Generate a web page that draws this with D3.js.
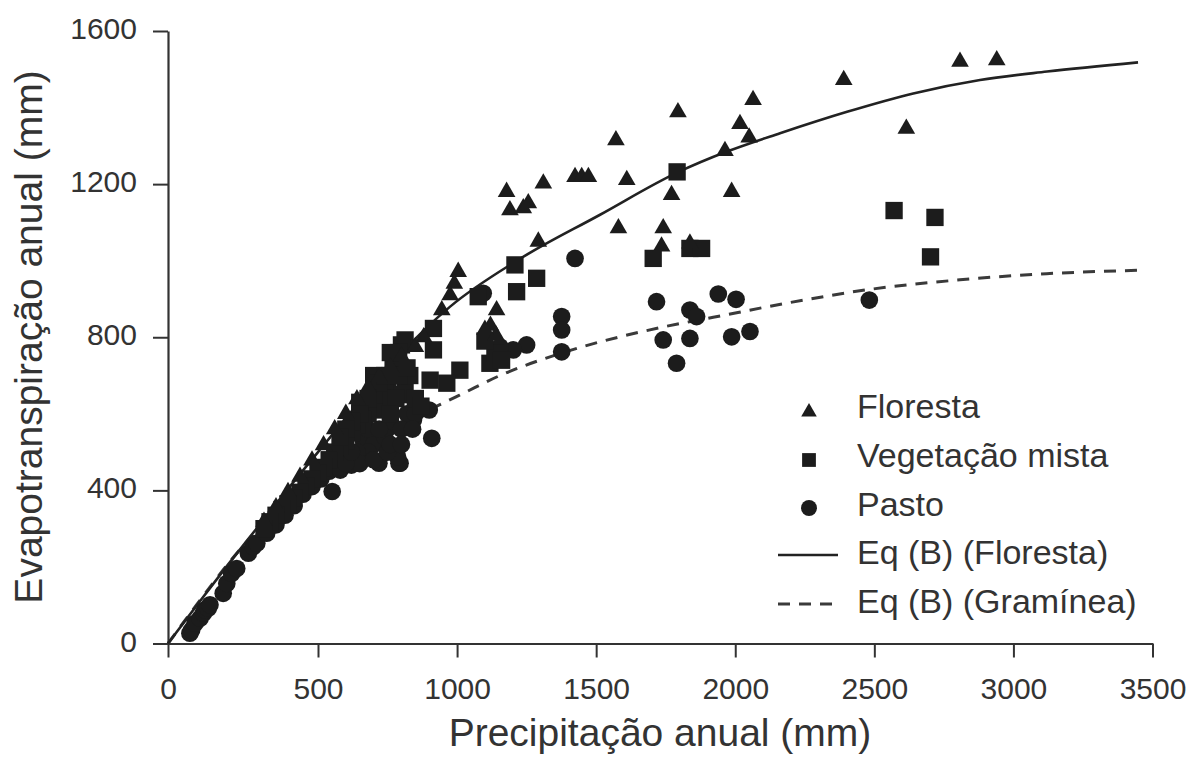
<!DOCTYPE html>
<html>
<head>
<meta charset="utf-8">
<script src="https://cdn.jsdelivr.net/npm/d3@7"></script>
<style>
  html, body { margin: 0; padding: 0; background: #fff; }
  svg { display: block; }
  text { font-family: "Liberation Sans", Arial, Helvetica, sans-serif; fill: #333; }
</style>
</head>
<body>
<svg id="chart" width="1194" height="758"></svg>
<script>
// ---------- data ----------
const xTicks = [0, 500, 1000, 1500, 2000, 2500, 3000, 3500];
const yTicks = [0, 400, 800, 1200, 1600];
const xTitle = "Precipitação anual (mm)";
const yTitle = "Evapotranspiração anual (mm)";
const legendLabels = ["Floresta", "Vegetação mista", "Pasto", "Eq (B) (Floresta)", "Eq (B) (Gramínea)"];

// Floresta (triangles): [precipitação, evapotranspiração]
const floresta = [
  [2940,1524],[2808,1520],[2390,1472],[2615,1345],[2064,1420],[2017,1357],[2050,1322],
  [1963,1287],[1987,1180],[1794,1388],[1771,1172],[1741,1085],[1735,1037],[1837,1045],
  [1580,1085],[1610,1211],[1571,1315],[1424,1219],[1448,1219],[1472,1219],[1310,1202],
  [1178,1180],[1190,1132],[1238,1137],[1256,1150],[1292,1050],[1004,971],[990,940],
  [975,910],[945,871],[1142,871],[1120,830],[1140,805],[1100,820],
  [880,800],[850,775],[800,750],[760,722],[720,695],[680,668],[640,638],[600,600],
  [560,560],[520,518],[480,478],[440,436],[400,396],[360,356],[320,318]
];

// Vegetação mista (squares)
const vegetacao = [
  [1791,1232],[2571,1131],[2718,1113],[2702,1010],[1705,1006],[1837,1032],[1879,1032],
  [1208,989],[1214,919],[1286,954],[1076,906],[915,823],[915,767],[1010,714],[903,688],
  [963,680],[813,793],[813,671],[1118,732],[1136,758],[1100,790],[1160,740],
  [800,780],[790,760],[780,740],[770,720],[760,700],[750,680],[740,660],[730,640],
  [720,620],[700,610],[680,600],[660,585],[640,570],[620,550],[600,530],[580,515],
  [560,500],[540,480],[520,460],[500,445],[480,430],[460,412],[440,395],[420,380],
  [400,365],[380,350],[360,335],[340,318],[320,300],[810,650],[830,700],[850,640],
  [870,620],[780,640],[760,600],[700,650],[650,630],[700,700],[720,680],[680,640],
  [740,700],[650,600],[620,580],[600,560],[580,540],[760,760],[790,700],[820,720]
];

// Pasto (circles)
const pasto = [
  [2482,897],[1717,893],[1741,793],[1837,797],[1789,732],[1837,871],[1861,854],
  [1939,913],[2003,899],[1987,801],[2053,815],[1424,1006],[1376,854],[1376,819],
  [1376,762],[1250,780],[1202,767],[1154,775],[1094,915],[909,536],[795,471],[867,619],
  [73,27],[79,35],[90,53],[107,66],[118,79],[123,88],[134,92],[140,101],[184,131],
  [196,157],[212,183],[229,196],[268,236],[284,253],[296,262],[329,288],[360,310],
  [390,335],[420,360],[450,390],[480,410],[510,430],[540,450],[551,397],[580,453],
  [603,479],[620,466],[664,527],[719,471],[791,471],[759,566],[843,584],[879,614],
  [786,488],[700,520],[680,500],[640,500],[600,540],[560,480],[740,540],[820,600],
  [850,600],[900,610],[650,470],[700,480],[750,500],[600,470],[620,500],[680,560],
  [720,560],[760,520],[800,560],[800,520],[840,560]
];

// Fitted curves
const curveFloresta = [
  [0,0],[100,104],[200,206],[300,305],[400,404],[500,500],[650,632],[795,755],
  [975,880],[1215,1000],[1514,1120],[1791,1230],[1970,1285],[2161,1333],[2402,1389],
  [2640,1437],[2880,1472],[3121,1494],[3448,1518]
];
const curveGraminea = [
  [0,0],[100,106],[200,208],[300,298],[400,375],[500,440],[600,494],[700,540],
  [800,578],[903,612],[1007,648],[1154,700],[1382,760],[1729,825],[1921,852],
  [2184,889],[2484,925],[2808,950],[3119,966],[3450,975]
];

// ---------- drawing ----------
const svg = d3.select("#chart");
const x = d3.scaleLinear().domain([0, 500, 3500]).range([168, 318, 1152.5]);
const y = d3.scaleLinear().domain([0, 1600]).range([643.5, 31]);
const ink = "#1c1c1c";
const axisColor = "#333";
const fmt = d3.format("d");

// axes
const xAxis = svg.append("g").attr("transform", `translate(0,${y(0)})`)
  .call(d3.axisBottom(x).tickValues(xTicks).tickFormat(fmt).tickSize(14).tickSizeOuter(0));
const yAxis = svg.append("g").attr("transform", `translate(${x(0)},0)`)
  .call(d3.axisLeft(y).tickValues(yTicks).tickFormat(fmt).tickSize(15).tickSizeOuter(0));

[xAxis, yAxis].forEach(g => {
  g.select(".domain").attr("stroke", axisColor).attr("stroke-width", 2.2);
  g.selectAll(".tick line").attr("stroke", axisColor).attr("stroke-width", 2);
  g.selectAll(".tick text").attr("fill", "#333")
    .style("font-family", '"Liberation Sans", Arial, sans-serif').style("font-size", "30px");
});
xAxis.selectAll(".tick text").attr("dy", null).attr("y", 55);
yAxis.selectAll(".tick text").attr("dy", null).attr("y", 7.5).attr("x", -31);

// axis titles
svg.append("text").attr("x", 660).attr("y", 746).attr("text-anchor", "middle")
  .style("font-size", "39px").text(xTitle);
svg.append("text").attr("transform", "translate(42,337) rotate(-90)").attr("text-anchor", "middle")
  .style("font-size", "39px").text(yTitle);

// curves
const line = d3.line().x(d => x(d[0])).y(d => y(d[1])).curve(d3.curveMonotoneX);
svg.append("path").datum(curveGraminea).attr("d", line)
  .attr("fill", "none").attr("stroke", "#3a3a3a").attr("stroke-width", 3)
  .attr("stroke-dasharray", "12,9");
svg.append("path").datum(curveFloresta).attr("d", line)
  .attr("fill", "none").attr("stroke", "#222").attr("stroke-width", 2.6);

// markers
const triSym = d3.symbol().type(d3.symbolTriangle).size(135);
const sqSym = d3.symbol().type(d3.symbolSquare).size(300);
const ciSym = d3.symbol().type(d3.symbolCircle).size(245);

svg.append("g").selectAll("path").data(pasto).join("path")
  .attr("d", ciSym).attr("transform", d => `translate(${x(d[0])},${y(d[1])})`).attr("fill", ink);
svg.append("g").selectAll("path").data(vegetacao).join("path")
  .attr("d", sqSym).attr("transform", d => `translate(${x(d[0])},${y(d[1])})`).attr("fill", ink);
svg.append("g").selectAll("path").data(floresta).join("path")
  .attr("d", triSym).attr("transform", d => `translate(${x(d[0])},${y(d[1])})`).attr("fill", ink);

// legend
const lg = svg.append("g");
const lgX = 857, rows = [418, 467, 516, 564, 613];
lg.append("path").attr("d", d3.symbol().type(d3.symbolTriangle).size(105)())
  .attr("transform", `translate(809,${rows[0]-6})`).attr("fill", ink);
lg.append("path").attr("d", d3.symbol().type(d3.symbolSquare).size(190)())
  .attr("transform", `translate(809,${rows[1]-7})`).attr("fill", ink);
lg.append("path").attr("d", d3.symbol().type(d3.symbolCircle).size(200)())
  .attr("transform", `translate(809,${rows[2]-8})`).attr("fill", ink);
lg.append("line").attr("x1", 778).attr("x2", 838).attr("y1", rows[3]-9).attr("y2", rows[3]-9)
  .attr("stroke", "#222").attr("stroke-width", 2.6);
lg.append("line").attr("x1", 778).attr("x2", 836).attr("y1", rows[4]-9).attr("y2", rows[4]-9)
  .attr("stroke", "#3a3a3a").attr("stroke-width", 3).attr("stroke-dasharray", "12,9");
legendLabels.forEach((t, i) => {
  lg.append("text").attr("x", lgX).attr("y", rows[i]).style("font-size", "34px").text(t);
});
</script>
</body>
</html>
